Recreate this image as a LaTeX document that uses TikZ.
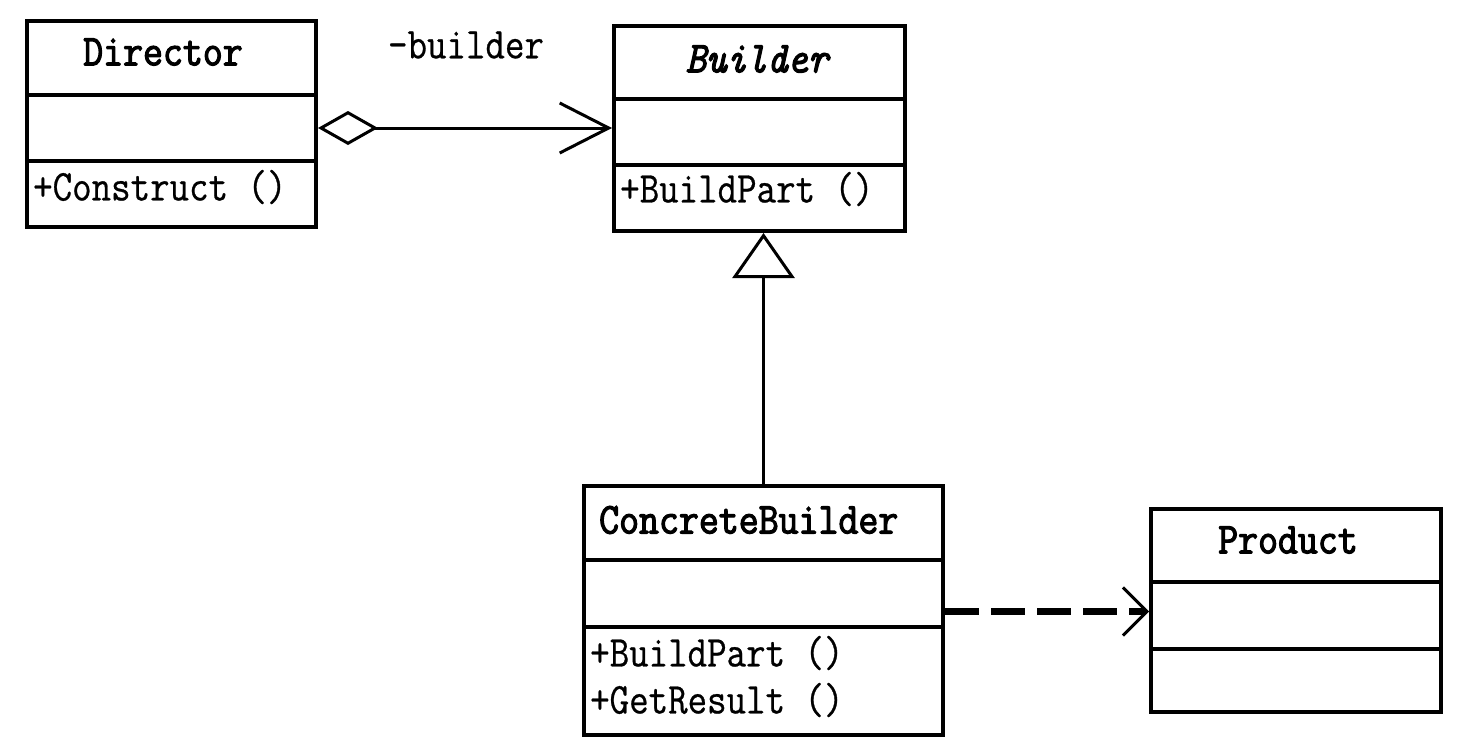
\documentclass[tikz,border=0pt]{standalone}
\usepackage{fontspec}
\newfontfamily\umlfont{Latin Modern Mono}[FakeStretch=0.86, FakeBold=0.6]
\newfontfamily\umlbold{Latin Modern Mono}[FakeStretch=0.88, FakeBold=2.6]
\usetikzlibrary{arrows.meta}
\begin{document}
\begin{tikzpicture}[x=1pt,y=-1pt,
  comp/.style={draw, line width=4pt, inner sep=0pt, anchor=north west},
  txt/.style={font=\umlfont\fontsize{44}{52}\selectfont, inner sep=0pt},
  ttl/.style={txt, font=\umlbold\fontsize{44}{52}\selectfont},
  assoc/.style={line width=3pt,
    {Diamond[open,length=60pt,width=34pt,line width=3pt]}-{Straight Barb[length=49pt,width=50pt,line width=3pt]}},
  inherit/.style={line width=3pt,
    -{Triangle[open,fill=white,length=45pt,width=62pt,line width=3pt]}},
  dep/.style={line width=7pt, dash pattern=on 34pt off 12pt,
    -{Straight Barb[length=24pt,width=48pt,line width=3pt]}}
]
\useasboundingbox (0,0) rectangle (1458,753);
\fill[white] (0,0) rectangle (1458,753);

% Director
\node[comp, minimum width=289pt, minimum height=74pt] (dirT) at (25,19) {};
\node[comp, minimum width=289pt, minimum height=66pt] (dirA) at (25,93) {};
\node[comp, minimum width=289pt, minimum height=66pt] (dirO) at (25,159) {};
\node[ttl] (dirN) at (163,52) {Director};
\node[txt, anchor=west] (dirOp) at (33,187) {+Construct ()};

% Builder
\node[comp, minimum width=291pt, minimum height=73pt] (bldT) at (612,24) {};
\node[comp, minimum width=291pt, minimum height=66pt] (bldA) at (612,97) {};
\node[comp, minimum width=291pt, minimum height=66pt] (bldO) at (612,163) {};
\node[ttl, font=\umlbold\fontsize{44}{52}\selectfont\itshape] (bldN) at (757,59) {Builder};
\node[txt, anchor=west] (bldOp) at (620,189) {+BuildPart ()};

% ConcreteBuilder
\node[comp, minimum width=359pt, minimum height=74pt] (cbT) at (582,484) {};
\node[comp, minimum width=359pt, minimum height=67pt] (cbA) at (582,558) {};
\node[comp, minimum width=359pt, minimum height=108pt] (cbO) at (582,625) {};
\node[ttl, anchor=west] (cbN) at (599,520) {ConcreteBuilder};
\node[txt, anchor=west] (cbOp1) at (590,653) {+BuildPart ()};
\node[txt, anchor=west] (cbOp2) at (590,700) {+GetResult ()};

% Product
\node[comp, minimum width=290pt, minimum height=73pt] (prT) at (1149,507) {};
\node[comp, minimum width=290pt, minimum height=67pt] (prA) at (1149,580) {};
\node[comp, minimum width=290pt, minimum height=63pt] (prO) at (1149,647) {};
\node[ttl] (prN) at (1288,540) {Product};

% association label
\node[txt] (roleLbl) at (466,45) {-builder};

% connectors
\draw[assoc] (dirA.east) -- (dirA.east -| bldA.west);
\draw[inherit] (cbT.north) -- (cbT.north |- bldO.south);
\coordinate (depEnd) at ([yshift=4pt]prA.west);
\draw[dep] (cbA.east |- depEnd) -- (depEnd);
\end{tikzpicture}
\end{document}
